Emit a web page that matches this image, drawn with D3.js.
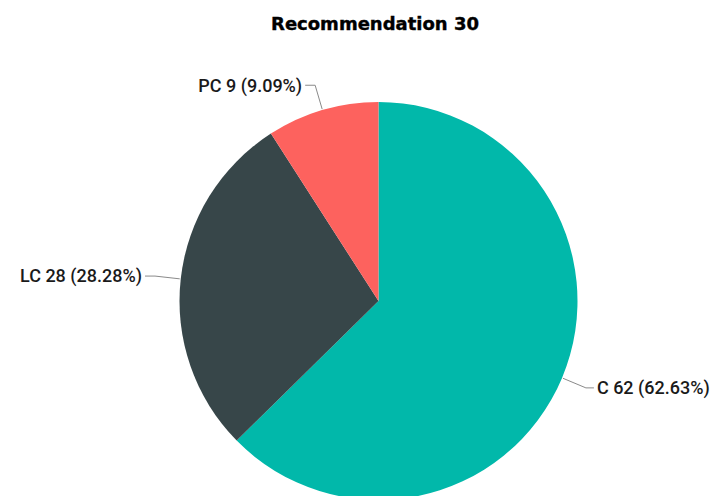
<!DOCTYPE html>
<html>
<head>
<meta charset="utf-8">
<script src="https://cdn.jsdelivr.net/npm/d3@7"></script>
<style>
  html, body { margin: 0; padding: 0; background: #ffffff; }
  svg { display: block; }
</style>
</head>
<body>
<svg id="chart" width="720" height="496"></svg>
<script>
// Recommendation 30 — counts per rating
const categories = ["C", "LC", "PC"];
const counts = [62, 28, 9];
const colors = ["#01B8AA", "#374649", "#FD625E"];
const titleText = "Recommendation 30";

const width = 720, height = 496;
const cx = 378.5, cy = 301, radius = 199;

const svg = d3.select("#chart");

svg.append("text")
  .attr("x", 375)
  .attr("y", 30)
  .attr("text-anchor", "middle")
  .attr("font-family", "'DejaVu Sans', sans-serif")
  .attr("font-weight", "900")
  .attr("font-size", 18)
  .attr("fill", "#000")
  .attr("stroke", "#000")
  .attr("stroke-width", 0.4)
  .text(titleText);

const data = categories.map((c, i) => ({ name: c, value: counts[i], color: colors[i] }));
const total = d3.sum(counts);

const pie = d3.pie().value(d => d.value).sort(null);
const arcs = pie(data);
const arc = d3.arc().innerRadius(0).outerRadius(radius);

const g = svg.append("g").attr("transform", `translate(${cx},${cy})`);

g.selectAll("path.slice")
  .data(arcs)
  .join("path")
  .attr("class", "slice")
  .attr("d", arc)
  .attr("fill", d => d.data.color);

// Leader lines and labels
const pointAt = (angle, r) => [Math.sin(angle) * r, -Math.cos(angle) * r];

arcs.forEach(d => {
  const mid = (d.startAngle + d.endAngle) / 2;
  const p0 = pointAt(mid, radius + 1);
  const p1 = pointAt(mid, radius * 1.13);
  const right = Math.sin(mid) >= 0;
  const p2 = [p1[0] + (right ? 8 : -10), p1[1]];
  g.append("polyline")
    .attr("points", [p0, p1, p2].map(p => p.join(",")).join(" "))
    .attr("fill", "none")
    .attr("stroke", "#8a8a8a")
    .attr("stroke-width", 1);
  const pct = (d.data.value / total * 100).toFixed(2);
  g.append("text")
    .attr("x", p2[0] + (right ? 3 : -3))
    .attr("y", p2[1])
    .attr("dy", "0.35em")
    .attr("text-anchor", right ? "start" : "end")
    .attr("font-family", "Roboto, sans-serif")
    .attr("font-weight", "500")
    .attr("font-size", 18)
    .attr("fill", "#1a1a1a")
    .text(`${d.data.name} ${d.data.value} (${pct}%)`);
});
</script>
</body>
</html>
